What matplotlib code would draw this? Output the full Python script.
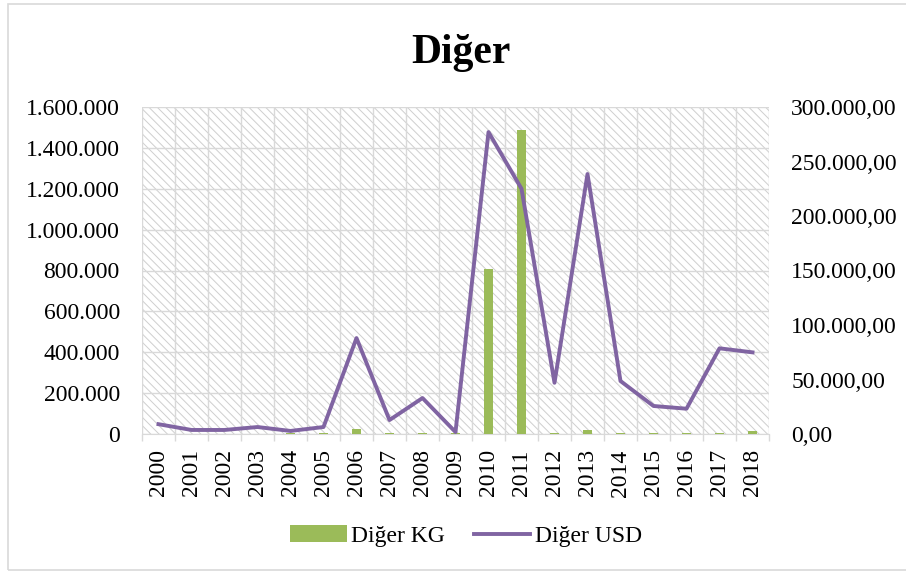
import matplotlib
matplotlib.use("Agg")
import matplotlib.pyplot as plt
import matplotlib.ticker as mticker
from matplotlib.patches import Rectangle
from matplotlib.lines import Line2D
from matplotlib.patches import Patch
import numpy as np

years = [str(y) for y in range(2000, 2019)]
kg_values = [0, 0, 0, 0, 4000, 5000, 24000, 5000, 4000, 3000,
             807000, 1487000, 4000, 20000, 4000, 4000, 4000, 4000, 13000]
usd_values = [9000, 3700, 3700, 6400, 2800, 6400, 88000, 12800, 33000, 1800,
              277000, 225000, 47000, 238500, 48600, 25700, 23200, 78600, 74900]

plt.rcParams['font.family'] = ['Liberation Serif', 'DejaVu Serif']
plt.rcParams['hatch.linewidth'] = 0.7
plt.rcParams['hatch.color'] = '#cfcfcf'

green = '#9BBB59'
purple = '#8064A2'
grid_c = '#d9d9d9'


def tr_int(v, pos=None):
    return f"{v:,.0f}".replace(",", ".")


def tr_dec(v, pos=None):
    s = f"{v:,.2f}"
    return s.replace(",", "X").replace(".", ",").replace("X", ".")


fig = plt.figure(figsize=(9.06, 5.72), dpi=100)
ax = fig.add_axes([142 / 906, 1 - 434 / 572, 627 / 906, 327 / 572])
x = np.arange(len(years))

# hatched plot background
ax.add_patch(Rectangle((0, 0), 1, 1, transform=ax.transAxes, facecolor='white',
                       hatch='\\\\\\\\', edgecolor='#cfcfcf', linewidth=0, zorder=0))
ax.bar(x, kg_values, width=0.28, color=green, zorder=3)
ax.set_xlim(-0.5, len(years) - 0.5)
ax.set_ylim(0, 1600000)
ax.yaxis.set_major_locator(mticker.MultipleLocator(200000))
ax.yaxis.set_major_formatter(mticker.FuncFormatter(tr_int))
ax.set_xticks(x)
ax.set_xticklabels(years, rotation=90)
ax.set_xticks(np.arange(-0.5, len(years)), minor=True)
ax.tick_params(axis='x', which='major', length=0, pad=11, labelsize=17)
ax.tick_params(axis='x', which='minor', length=5, color=grid_c, width=1)
ax.tick_params(axis='y', length=0, pad=16, labelsize=17)
ax.grid(True, axis='y', color=grid_c, linewidth=1, zorder=1)
ax.grid(True, axis='x', which='minor', color=grid_c, linewidth=1, zorder=1)
ax.set_axisbelow(True)
for s in ['top', 'right', 'left']:
    ax.spines[s].set_visible(False)
ax.spines['bottom'].set_color(grid_c)

ax2 = ax.twinx()
ax2.plot(x, usd_values, color=purple, linewidth=2.8, solid_joinstyle='round', zorder=4)
ax2.set_ylim(0, 300000)
ax2.yaxis.set_major_locator(mticker.MultipleLocator(50000))
ax2.yaxis.set_major_formatter(mticker.FuncFormatter(tr_dec))
ax2.tick_params(axis='y', length=0, pad=16, labelsize=17)
for s in ax2.spines.values():
    s.set_visible(False)

fig.text(461 / 906, 1 - 53 / 572, 'Diğer', ha='center', va='center',
         fontsize=30, fontweight='bold')

handles = [Patch(facecolor=green, edgecolor='none'),
           Line2D([0], [0], color=purple, linewidth=2.8)]
fig.legend(handles, ['Diğer KG', 'Diğer USD'], loc='center',
           bbox_to_anchor=(466 / 906, 1 - 536 / 572), ncol=2, frameon=False,
           fontsize=17, handlelength=2.4, handletextpad=0.2, columnspacing=1.2)

fig.add_artist(Rectangle((8 / 906, 1 - 570 / 572), 910 / 906, 566 / 572,
                         transform=fig.transFigure, fill=False,
                         edgecolor='#d9d9d9', linewidth=1.2))

fig.savefig('out.png', dpi=100)
